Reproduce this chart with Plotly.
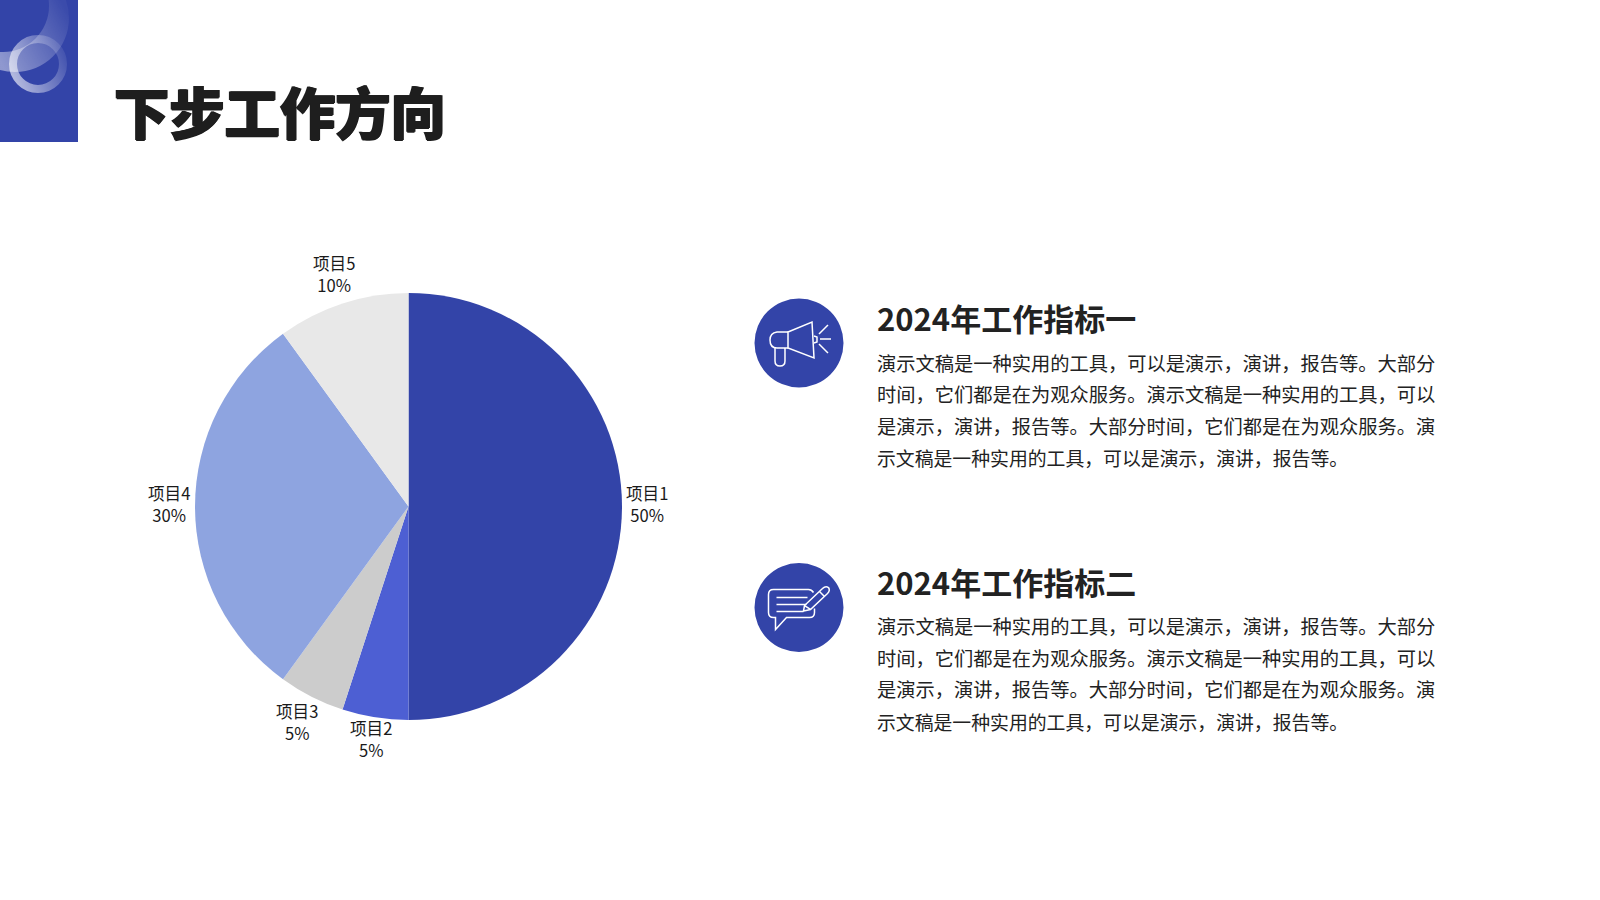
import base64
import math
import plotly.graph_objects as go

W = 1600
H = 900
FONT = "Noto Sans CJK SC"
BLUE = "#3344a8"
DARK = "#222222"

title = "下步工作方向"
items = ["项目1", "项目2", "项目3", "项目4", "项目5"]
values = [50, 5, 5, 30, 10]
colors = ["#3344a8", "#4d5fd3", "#cccccc", "#8ea4e0", "#e8e8e8"]

heading1 = "2024年工作指标一"
heading2 = "2024年工作指标二"
body_lines = [
    "演示文稿是一种实用的工具，可以是演示，演讲，报告等。大部分",
    "时间，它们都是在为观众服务。演示文稿是一种实用的工具，可以",
    "是演示，演讲，报告等。大部分时间，它们都是在为观众服务。演",
    "示文稿是一种实用的工具，可以是演示，演讲，报告等。",
]
# the first three lines are justified in the original, so they run a bit wider
body_sizes = [19.25, 19.25, 19.25, 18.85]


def fx(x):
    return x / W


def fy(y):
    return 1 - y / H


def add_text(fig, x, y, text, size, color=DARK, weight=400, anchor="left", shadow=None):
    font = dict(family=FONT, size=size, color=color, weight=weight)
    if shadow:
        font["shadow"] = shadow
    fig.add_annotation(x=fx(x), y=fy(y), xref="paper", yref="paper", text=text, showarrow=False,
                       xanchor=anchor, yanchor="middle", borderpad=0, font=font)


# icon outlines are given relative to the circle centre
def icon_path(cx, cy, cmds):
    out = []
    for c in cmds:
        pts = c[1:]
        nums = []
        for i in range(0, len(pts), 2):
            nums.append("{:.5f},{:.5f}".format(fx(cx + pts[i]), fy(cy + pts[i + 1])))
        out.append(c[0] + " ".join(nums))
    return " ".join(out)


def add_icon(fig, cx, cy, paths, dx=0):
    fig.add_shape(type="circle", xref="paper", yref="paper", x0=fx(cx - 44.5), x1=fx(cx + 44.5),
                  y0=fy(cy - 44.5), y1=fy(cy + 44.5), fillcolor=BLUE, line_width=0)
    for p in paths:
        fig.add_shape(type="path", xref="paper", yref="paper", path=icon_path(cx + dx, cy, p),
                      line=dict(color="white", width=1.5))


megaphone = [
    # cone and mouth
    [("M", -11, -11), ("L", 13, -21), ("L", 15, 15), ("L", -11, 5), ("Z",)],
    # back of the horn
    [("M", -11, -11), ("L", -22, -11), ("Q", -29, -10, -29, -3), ("Q", -29, 5, -22, 5), ("L", -11, 5)],
    # handle
    [("M", -24, 5), ("L", -24, 18), ("Q", -24, 23, -19, 23), ("Q", -14, 23, -14, 18), ("L", -14, 5)],
    [("M", 15, -7), ("L", 18, -6), ("L", 18, -1), ("L", 15, 0)],
    # sound rays
    [("M", 20, -9), ("L", 29, -18)],
    [("M", 21, -4), ("L", 32, -4)],
    [("M", 20, 1), ("L", 29, 10)],
]
chat = [
    # bubble with its tail, open where the pencil crosses it
    [("M", 14, -15), ("Q", 12, -18, 9, -18), ("L", -26, -18), ("Q", -31, -18, -31, -13), ("L", -31, 5),
     ("Q", -31, 10, -26, 10), ("L", -24, 10), ("L", -24, 22), ("L", -13, 10), ("L", 10, 10),
     ("Q", 15, 10, 15, 5), ("L", 15, 1)],
    [("M", -23, -10), ("L", 8, -10)],
    [("M", -23, -3), ("L", 7, -3)],
    [("M", -23, 4), ("L", 4, 4)],
    # pencil
    [("M", 4, 3.5), ("L", 5, -2), ("L", 23, -19), ("Q", 26, -22, 29, -20), ("Q", 31, -17, 28, -14),
     ("L", 11, 2), ("Z",)],
    [("M", 5, -2), ("L", 11, 2)],
    [("M", 20, -16), ("L", 25, -11)],
]

# corner block with the soft circles, gradients need an svg
corner_svg = """<svg xmlns="http://www.w3.org/2000/svg" width="78" height="142" viewBox="0 0 78 142">
<defs>
<linearGradient id="a" gradientUnits="userSpaceOnUse" x1="0" y1="60" x2="72" y2="20">
<stop offset="0" stop-color="#fff" stop-opacity="0.45"/><stop offset="1" stop-color="#fff" stop-opacity="0.04"/>
</linearGradient>
<linearGradient id="b" gradientUnits="userSpaceOnUse" x1="12" y1="72" x2="66" y2="50">
<stop offset="0" stop-color="#fff" stop-opacity="0.62"/><stop offset="1" stop-color="#fff" stop-opacity="0.06"/>
</linearGradient>
<mask id="m"><rect width="78" height="142" fill="#fff"/><circle cx="3" cy="6" r="46" fill="#000"/></mask>
</defs>
<rect width="78" height="142" fill="#3344a8"/>
<circle cx="15" cy="18" r="54" fill="url(#a)" mask="url(#m)"/>
<circle cx="38" cy="64" r="25" fill="none" stroke="url(#b)" stroke-width="8"/>
</svg>"""
corner_src = "data:image/svg+xml;base64," + base64.b64encode(corner_svg.encode()).decode()

pie_cx = 408.5
pie_cy = 506.5
pie_r = 213.5
label_r = 240
# hand placed labels in the original, not exactly on one radius
label_nudge = [(-2, -2.5), (0.5, -4.5), (-2.5, 1.5), (0.5, -2.5), (-0.5, -4.5)]

fig = go.Figure(go.Pie(labels=items, values=values, textinfo="none", sort=False, direction="clockwise",
                       rotation=0, showlegend=False, automargin=False,
                       marker=dict(colors=colors, line=dict(width=0)),
                       domain=dict(x=[fx(pie_cx - pie_r), fx(pie_cx + pie_r)],
                                   y=[fy(pie_cy + pie_r), fy(pie_cy - pie_r)])))

fig.add_layout_image(source=corner_src, xref="paper", yref="paper", x=0, y=1, sizex=fx(78), sizey=142 / H,
                     xanchor="left", yanchor="top", sizing="stretch", layer="below")

# slice labels sit at the middle angle of each slice
total = sum(values)
done = 0
for name, v, nudge in zip(items, values, label_nudge):
    mid = (done + v / 2) / total * 2 * math.pi
    done += v
    add_text(fig, pie_cx + label_r * math.sin(mid) + nudge[0], pie_cy - label_r * math.cos(mid) + nudge[1],
             "{}<br>{}%".format(name, v), 16.6, "#1a1a1a", anchor="center")

add_text(fig, 113, 110, title, 55.3, "#1e1e1e", 900,
         shadow="1px 0 0 #1e1e1e, -1px 0 0 #1e1e1e, 0 1px 0 #1e1e1e")

add_icon(fig, 799, 343, megaphone)
add_icon(fig, 799, 607.5, chat, dx=0.5)

add_text(fig, 876, 318, heading1, 31, DARK, 700)
add_text(fig, 876, 581.5, heading2, 31, DARK, 700)
for y, line, size in zip([362.5, 394.2, 425.9, 457.5], body_lines, body_sizes):
    add_text(fig, 876, y, line, size)
for y, line, size in zip([626, 657.7, 689.4, 721], body_lines, body_sizes):
    add_text(fig, 876, y, line, size)

fig.update_layout(width=W, height=H, margin=dict(l=0, r=0, t=0, b=0), paper_bgcolor="white",
                  plot_bgcolor="white", font=dict(family=FONT))

fig.write_html("out.html", config=dict(displayModeBar=False),
               post_script="document.body.style.margin='0';document.body.style.overflow='hidden';")
